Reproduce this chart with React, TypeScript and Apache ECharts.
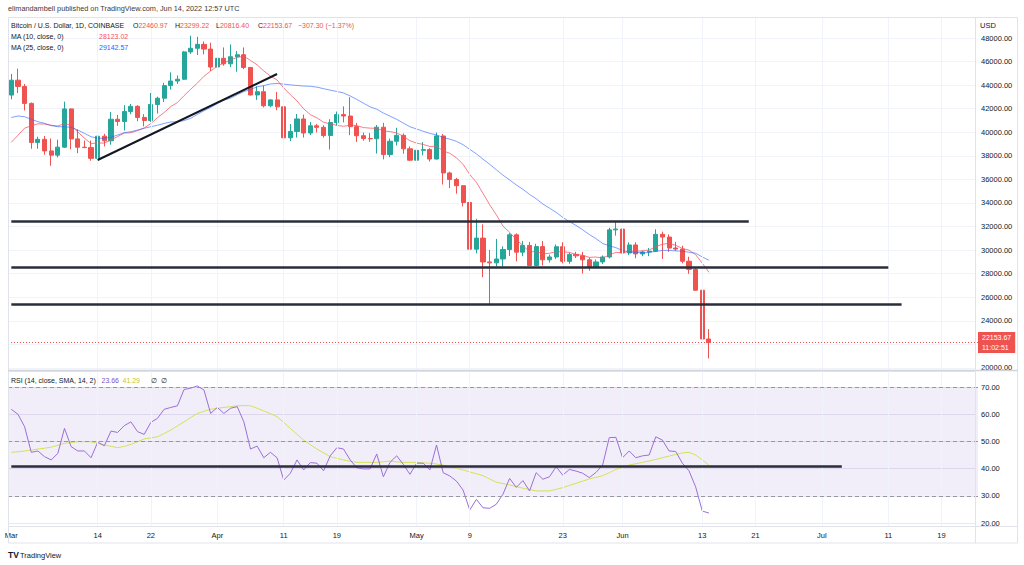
import React, { useEffect, useRef } from "react";
import * as echarts from "echarts";

// ---------- categories (daily, Mar 1 – Jul 24 2022) ----------
const FIRST_DAY_UTC = Date.UTC(2022, 2, 1);
const DAY_COUNT = 146;
const CATEGORIES: string[] = Array.from({ length: DAY_COUNT }, (_, i) =>
  new Date(FIRST_DAY_UTC + i * 86400000).toISOString().slice(0, 10)
);

const TICK_DATES = [
  "2022-03-01", "2022-03-14", "2022-03-22", "2022-04-01", "2022-04-11", "2022-04-19",
  "2022-05-01", "2022-05-09", "2022-05-23", "2022-06-01", "2022-06-13", "2022-06-21",
  "2022-07-01", "2022-07-11", "2022-07-19",
];
const TICK_LABELS = ["Mar", "14", "22", "Apr", "11", "19", "May", "9", "23", "Jun", "13", "21", "Jul", "11", "19"];

// ---------- BTC/USD daily OHLC (Mar 1 – Jun 14 2022) ----------
const OPEN = [
  43160, 44420, 43890, 42450, 39140, 39400, 38420, 38060, 38740, 41980,
  39440, 38730, 38700, 37790, 39670, 39280, 41110, 40920, 41760, 42200,
  41260, 41000, 42360, 42890, 43960, 44350, 44500, 46820, 47130, 47460,
  47060, 45540, 46280, 45810, 46410, 46580, 45500, 43170, 43440, 42250,
  42750, 42160, 39530, 40070, 41130, 39940, 40550, 40420, 39720, 40830,
  41500, 41380, 40480, 39710, 39470, 39450, 40430, 38110, 39240, 39740,
  38600, 37630, 38470, 38530, 37730, 39690, 36550, 36000, 35470, 34040,
  30080, 31020, 29000, 28920, 29250, 30050, 31300, 29830, 30400, 28700,
  30300, 29180, 29420, 30290, 29050, 29640, 29520, 29180, 28570, 29000,
  29420, 31720, 31790, 29760, 30440, 29680, 29840, 29910, 31340, 31110,
  30180, 30090, 29060, 28370, 26600, 22460.97,
];
const CLOSE = [
  44420, 43890, 42450, 39140, 39400, 38420, 38060, 38740, 41980, 39440,
  38730, 38700, 37790, 39670, 39280, 41110, 40920, 41760, 42200, 41260,
  41000, 42360, 42890, 43960, 44350, 44500, 46820, 47130, 47460, 47060,
  45540, 46280, 45810, 46410, 46580, 45500, 43170, 43440, 42250, 42750,
  42160, 39530, 40070, 41130, 39940, 40550, 40420, 39720, 40830, 41500,
  41380, 40480, 39710, 39470, 39450, 40430, 38110, 39240, 39740, 38600,
  37630, 38470, 38530, 37730, 39690, 36550, 36000, 35470, 34040, 30080,
  31020, 29000, 28920, 29250, 30050, 31300, 29830, 30400, 28700, 30300,
  29180, 29420, 30290, 29050, 29640, 29520, 29180, 28570, 29000, 29420,
  31720, 31790, 29760, 30440, 29680, 29840, 29910, 31340, 31110, 30180,
  30090, 29060, 28370, 26600, 22460.97, 22153.67,
];
const LOW = [
  42800, 43330, 41850, 38600, 38600, 38090, 37160, 37870, 38670, 38550,
  38230, 38660, 37580, 37580, 38800, 38950, 40550, 40150, 41530, 40940,
  40500, 40880, 41600, 42570, 43620, 44100, 44440, 46650, 46560, 46620,
  45200, 44200, 45650, 45530, 45140, 45360, 43120, 42750, 42110, 42130,
  41870, 39200, 39260, 39560, 39550, 39770, 39990, 39550, 38540, 40570,
  40840, 39760, 39180, 39290, 39190, 38200, 37700, 37880, 38880, 38180,
  37580, 37390, 38050, 37520, 37700, 35570, 35260, 34790, 33710, 29870,
  29730, 27700, 25400, 28600, 28600, 29500, 29050, 29480, 28660, 28680,
  28700, 28950, 29240, 28880, 28840, 29330, 28020, 28250, 28450, 28820,
  29300, 31230, 29310, 29580, 29310, 29480, 29490, 29880, 29250, 29850,
  29940, 28880, 27990, 26560, 21950, 20816.4,
];
const HIGH = [
  44950, 45400, 44100, 42530, 39620, 39680, 39470, 39370, 42600, 42030,
  40240, 39300, 39300, 39920, 39870, 41720, 41470, 42300, 42400, 42300,
  41540, 43340, 43020, 44200, 45080, 44820, 46900, 48190, 48100, 47700,
  47600, 46700, 47200, 47450, 46890, 47200, 45500, 43900, 43960, 42790,
  43430, 42420, 40700, 41550, 41500, 40870, 40700, 40600, 41110, 41760,
  42200, 42980, 40800, 39980, 39930, 40620, 40800, 39470, 40380, 39900,
  38800, 38680, 39170, 38650, 39980, 39850, 36650, 36130, 35500, 34240,
  32660, 32190, 30010, 30950, 30320, 31440, 31430, 30780, 30700, 30540,
  30770, 29620, 30480, 30670, 29800, 29850, 29850, 29380, 29210, 29550,
  31900, 32400, 31990, 30660, 30670, 29950, 30180, 31770, 31570, 31330,
  30700, 30380, 29440, 28540, 26880, 23299.22,
];

// ---------- moving averages ----------
const MA10 = [
  39150, 39750, 40350, 40550, 40720, 40700, 40600, 40530, 40750, 40594,
  40025, 39506, 39040, 39093, 39081, 39350, 39636, 39938, 39960, 40142,
  40369, 40735, 41245, 41674, 42181, 42520, 43110, 43647, 44173, 44753,
  45207, 45599, 45891, 46136, 46359, 46459, 46094, 45725, 45204, 44773,
  44435, 43760, 43186, 42658, 41994, 41499, 41224, 40852, 40710, 40585,
  40507, 40602, 40566, 40400, 40351, 40339, 40108, 40060, 39951, 39661,
  39286, 39085, 38967, 38793, 38817, 38429, 38218, 37841, 37271, 36419,
  35758, 34811, 33850, 33002, 32038, 31513, 30896, 30389, 29855, 29877,
  29693, 29735, 29872, 29852, 29811, 29633, 29568, 29385, 29415, 29327,
  29581, 29818, 29765, 29904, 29908, 29940, 30013, 30290, 30501, 30577,
  30414, 30141, 30002, 29618, 28896, 28123.02,
];
const MA25 = [
  41250, 41380, 41320, 41100, 40900, 40760, 40560, 40475, 40475, 40420,
  40190, 39910, 39625, 39490, 39490, 39575, 39770, 39965, 40050, 40190,
  40340, 40475, 40600, 40750, 40877, 40880, 40997, 41184, 41517, 41824,
  42108, 42437, 42720, 42897, 43183, 43454, 43632, 43858, 43962, 44100,
  44142, 44087, 44019, 43976, 43924, 43906, 43828, 43701, 43576, 43462,
  43337, 43084, 42787, 42467, 42163, 41958, 41632, 41369, 41102, 40783,
  40468, 40280, 40084, 39903, 39780, 39556, 39415, 39231, 38947, 38553,
  38172, 37715, 37283, 36820, 36362, 35958, 35532, 35160, 34729, 34363,
  33913, 33566, 33208, 32780, 32422, 32097, 31726, 31327, 30978, 30567,
  30374, 30206, 29977, 29833, 29817, 29770, 29806, 29903, 29978, 29983,
  29934, 29904, 29822, 29738, 29425, 29142.57,
];

// ---------- RSI (14) and its SMA (14) ----------
const RSI = [
  61.8, 60.0, 55.4, 46.0, 46.5, 44.4, 43.2, 45.6, 54.8, 48.1,
  46.5, 46.5, 44.0, 49.7, 48.4, 53.8, 53.3, 55.8, 57.2, 53.6,
  52.6, 57.0, 58.5, 61.8, 62.5, 63.1, 69.1, 69.6, 70.4, 68.9,
  60.3, 62.5, 60.3, 62.2, 62.8, 57.2, 47.2, 48.3, 44.0, 46.0,
  44.0, 35.8, 38.3, 43.2, 39.5, 42.2, 42.0, 39.2, 44.7, 47.7,
  47.2, 43.2, 40.3, 39.9, 39.9, 45.4, 37.0, 42.3, 44.7, 41.6,
  37.9, 42.0, 42.0, 39.5, 48.7, 38.5, 37.3, 35.4, 32.1, 24.8,
  28.7, 25.6, 25.4, 26.9, 30.6, 36.4, 33.1, 35.6, 31.8, 38.5,
  36.1, 37.0, 40.7, 37.6, 39.7, 39.1, 38.3, 36.7, 38.6, 41.3,
  51.4, 51.5, 44.0, 46.5, 44.0, 44.7, 45.0, 51.7, 50.5, 46.5,
  46.3, 42.0, 39.2, 33.3, 24.4, 23.66,
];
const RSI_MA = [
  46.0, 46.2, 46.5, 46.8, 47.2, 47.5, 47.9, 48.6, 49.3, 49.6,
  49.9, 49.9, 49.9, 49.3, 48.7, 48.2, 47.7, 48.2, 48.9, 49.9,
  50.9, 51.3, 51.7, 52.9, 54.2, 55.7, 57.2, 58.8, 60.3, 61.1,
  61.8, 62.2, 62.5, 62.8, 63.1, 63.2, 63.1, 62.2, 61.2, 60.2,
  59.1, 57.0, 54.8, 52.6, 50.5, 48.8, 47.2, 45.8, 44.4, 43.8,
  43.2, 42.7, 42.3, 42.3, 42.3, 42.3, 42.5, 42.8, 42.5, 42.3,
  42.3, 42.3, 42.1, 42.0, 41.7, 41.3, 40.7, 40.1, 39.5, 38.8,
  38.1, 37.4, 36.2, 35.0, 34.5, 34.0, 33.4, 32.8, 32.3, 31.8,
  31.8, 31.8, 32.4, 33.0, 33.8, 34.6, 35.4, 36.2, 36.8, 37.4,
  38.5, 39.7, 40.5, 41.3, 41.8, 42.3, 42.8, 43.4, 44.0, 44.6,
  45.2, 45.8, 46.0, 45.0, 43.2, 41.29,
];

// ---------- drawn annotations ----------
const LEVELS = [32420, 28540, 25405];
const LEVEL_START = ["2022-03-01", "2022-03-01", "2022-03-01"];
const LEVEL_END = ["2022-06-20", "2022-07-11", "2022-07-13"];
const TREND_DATES = ["2022-03-14", "2022-04-10"];
const TREND_PRICES = [37650, 44945];
const RSI_LEVEL = 41.0;
const RSI_LEVEL_DATES = ["2022-03-01", "2022-07-04"];
const COUNTDOWN = "11:02:51";

// ---------- styling ----------
const FONT = "'Liberation Sans', Arial, sans-serif";
const TEXT = "#131722";
const UP = "#26a69a";
const DOWN = "#ef5350";
const GRID_LINE = "#f0f3fa";
const FRAME = "#e0e3eb";
const FS = 7.5;   // axis labels
const LFS = 7;    // legend texts

const fmt2 = (v: number) => v.toFixed(2);
const minus = (s: string) => s.replace("-", "\u2212");

function txt(x: number, y: number, text: string, fill: string, size = LFS, extra: any = {}) {
  return {
    type: "text",
    x,
    y,
    z: 20,
    silent: true,
    style: { text, fill, fontSize: size, fontFamily: FONT, verticalAlign: "middle", align: "left", ...extra },
  };
}
function rich(x: number, y: number, label: string, value: string, color: string) {
  return {
    type: "text",
    x,
    y,
    z: 20,
    silent: true,
    style: {
      text: `{l|${label}}{v|${value}}`,
      fontSize: LFS,
      fontFamily: FONT,
      verticalAlign: "middle",
      rich: {
        l: { fill: TEXT, fontSize: LFS, fontFamily: FONT },
        v: { fill: color, fontSize: LFS, fontFamily: FONT },
      },
    },
  };
}
function hline(x1: number, x2: number, y: number, stroke = FRAME, lineWidth = 1) {
  return { type: "line", z: 15, silent: true, shape: { x1, y1: y, x2, y2: y }, style: { stroke, lineWidth } };
}
function vline(x: number, y1: number, y2: number, stroke = FRAME, lineWidth = 1) {
  return { type: "line", z: 15, silent: true, shape: { x1: x, y1, x2: x, y2 }, style: { stroke, lineWidth } };
}

export default function App() {
  const ref = useRef<HTMLDivElement>(null);

  useEffect(() => {
    if (!ref.current) return;
    const chart = echarts.init(ref.current, undefined, { renderer: "svg" });

    const last = CLOSE.length - 1;
    const lastClose = CLOSE[last];
    const change = lastClose - CLOSE[last - 1];
    const pct = (change / CLOSE[last - 1]) * 100;
    const candles = OPEN.map((o, i) => [o, CLOSE[i], LOW[i], HIGH[i]]);
    const tickSet = new Set(TICK_DATES);
    const tickLabel = (v: string) => {
      const k = TICK_DATES.indexOf(v);
      return k >= 0 ? TICK_LABELS[k] : "";
    };
    const vGrid = {
      symbol: "none",
      silent: true,
      animation: false,
      label: { show: false },
      lineStyle: { color: GRID_LINE, width: 1, type: "solid" },
      data: TICK_DATES.slice(1).map((d) => ({ xAxis: d })),
    };

    const axisLabelBase = { color: TEXT, fontSize: FS, fontFamily: FONT };

    const option: any = {
      animation: false,
      backgroundColor: "#ffffff",
      grid: [
        { left: 8, top: 17, width: 970, height: 353, containLabel: false, outerBoundsMode: "none", show: false },
        { left: 8, top: 371, width: 970, height: 155, containLabel: false, outerBoundsMode: "none", show: false },
      ],
      xAxis: [
        {
          type: "category", gridIndex: 0, data: CATEGORIES, boundaryGap: true,
          axisLine: { show: false }, axisTick: { show: false }, axisLabel: { show: false }, splitLine: { show: false },
        },
        {
          type: "category", gridIndex: 1, data: CATEGORIES, boundaryGap: true,
          axisLine: { show: false }, axisTick: { show: false }, splitLine: { show: false },
          axisLabel: {
            ...axisLabelBase,
            margin: 5,
            interval: (_i: number, v: string) => tickSet.has(v),
            formatter: (v: string) => tickLabel(v),
          },
        },
      ],
      yAxis: [
        {
          type: "value", gridIndex: 0, position: "right", min: 19830, max: 49782, splitNumber: 15,
          axisLine: { show: false }, axisTick: { show: false },
          axisLabel: {
            ...axisLabelBase, margin: 3, showMinLabel: false, showMaxLabel: false,
            // the scale hides tick labels that sit under the last-price badge
            formatter: (v: number) => (Math.abs(v - lastClose) < 1000 ? "" : fmt2(v)),
          },
          splitLine: { show: true, lineStyle: { color: GRID_LINE, width: 1 } },
        },
        {
          type: "value", gridIndex: 1, position: "right", min: 18.9, max: 75.9, splitNumber: 6,
          axisLine: { show: false }, axisTick: { show: false },
          axisLabel: { ...axisLabelBase, margin: 3, formatter: (v: number) => fmt2(v), showMinLabel: false, showMaxLabel: false },
          splitLine: { show: true, lineStyle: { color: "#e9e5f2", width: 1 } },
        },
      ],
      series: [
        // vertical grid lines (price pane)
        {
          type: "line", xAxisIndex: 0, yAxisIndex: 0, data: [], z: 1, silent: true,
          markLine: vGrid,
        },
        {
          type: "candlestick", name: "BTCUSD", xAxisIndex: 0, yAxisIndex: 0, z: 3,
          data: candles, barWidth: 4.6,
          itemStyle: { color: UP, color0: DOWN, borderColor: UP, borderColor0: DOWN, borderWidth: 1 },
          markLine: {
            symbol: "none", silent: true, animation: false,
            data: [{ yAxis: lastClose }],
            lineStyle: { color: DOWN, type: [1, 2], width: 1 },
            label: {
              show: true, position: "end", distance: 0,
              formatter: `${fmt2(lastClose)}\n${COUNTDOWN}`,
              color: "#ffffff", backgroundColor: DOWN, fontSize: 7, fontFamily: FONT,
              lineHeight: 10, padding: [1, 4, 0, 4], align: "left",
            },
          },
        },
        {
          type: "line", name: "MA10", xAxisIndex: 0, yAxisIndex: 0, data: MA10, z: 4,
          showSymbol: false, symbol: "none", silent: true,
          lineStyle: { color: "#f7525f", width: 1, opacity: 0.75 },
        },
        {
          type: "line", name: "MA25", xAxisIndex: 0, yAxisIndex: 0, data: MA25, z: 4,
          showSymbol: false, symbol: "none", silent: true,
          lineStyle: { color: "#2962ff", width: 1, opacity: 0.6 },
        },
        // drawn lines on price pane
        {
          type: "line", xAxisIndex: 0, yAxisIndex: 0, data: [], z: 6, silent: true,
          markLine: {
            symbol: "none", silent: true, animation: false, label: { show: false },
            data: [
              ...LEVELS.map((p, i) => [
                { coord: [LEVEL_START[i], p], lineStyle: { color: "#2a2e39", width: 2.5, type: "solid" } },
                { coord: [LEVEL_END[i], p] },
              ]),
              [
                { coord: [TREND_DATES[0], TREND_PRICES[0]], lineStyle: { color: "#131722", width: 2, type: "solid" } },
                { coord: [TREND_DATES[1], TREND_PRICES[1]] },
              ],
            ],
          },
        },
        // RSI pane background, bands, grid
        {
          type: "line", xAxisIndex: 1, yAxisIndex: 1, data: [], z: 1, silent: true,
          markArea: {
            silent: true,
            itemStyle: { color: "rgba(126,87,194,0.1)" },
            data: [[{ yAxis: 30 }, { yAxis: 70 }]],
          },
          markLine: vGrid,
        },
        {
          type: "line", xAxisIndex: 1, yAxisIndex: 1, data: [], z: 2, silent: true,
          markLine: {
            symbol: "none", silent: true, animation: false, label: { show: false },
            lineStyle: { color: "#9598a1", width: 1, type: [4, 3] },
            data: [{ yAxis: 70 }, { yAxis: 50 }, { yAxis: 30 }],
          },
        },
        {
          type: "line", name: "RSI", xAxisIndex: 1, yAxisIndex: 1, data: RSI, z: 4,
          showSymbol: false, symbol: "none", silent: true,
          lineStyle: { color: "#9b6fd6", width: 1 },
        },
        {
          type: "line", name: "RSI MA", xAxisIndex: 1, yAxisIndex: 1, data: RSI_MA, z: 3,
          showSymbol: false, symbol: "none", silent: true,
          lineStyle: { color: "#d4e157", width: 1 },
        },
        {
          type: "line", xAxisIndex: 1, yAxisIndex: 1, data: [], z: 6, silent: true,
          markLine: {
            symbol: "none", silent: true, animation: false, label: { show: false },
            data: [[
              { coord: [RSI_LEVEL_DATES[0], RSI_LEVEL], lineStyle: { color: "#2a2e39", width: 2.5, type: "solid" } },
              { coord: [RSI_LEVEL_DATES[1], RSI_LEVEL] },
            ]],
          },
        },
      ],
      graphic: {
        elements: [
          // cover the small overhang of the plot into the price-scale column
          { type: "rect", z: 1, silent: true, shape: { x: 976, y: 18, width: 2.6, height: 524 }, style: { fill: "#ffffff" } },
          // frame
          { type: "rect", z: 15, silent: true, shape: { x: 8.5, y: 17.5, width: 1009, height: 525.5 }, style: { fill: "none", stroke: FRAME, lineWidth: 1 } },
          hline(8, 1018, 370.5, "#d1d4dc", 1.5),
          hline(8, 1018, 526.5, FRAME, 1),
          vline(975.5, 17, 543, FRAME, 1),
          // header
          txt(8, 8.5, "elimandambell published on TradingView.com, Jun 14, 2022 12:57 UTC", "#3a3a3a", 7.3),
          txt(11, 25.5, "Bitcoin / U.S. Dollar, 1D, COINBASE", TEXT),
          rich(133, 25.5, "O", fmt2(OPEN[last]), DOWN),
          rich(175, 25.5, "H", fmt2(HIGH[last]), DOWN),
          rich(216, 25.5, "L", fmt2(LOW[last]), DOWN),
          rich(258, 25.5, "C", fmt2(lastClose), DOWN),
          txt(298, 25.5, `${minus(fmt2(change))} (${minus(fmt2(pct))}%)`, DOWN),
          txt(11, 36.5, "MA (10, close, 0)", TEXT),
          txt(99, 36.5, fmt2(MA10[last]), "#f7525f"),
          txt(11, 47.5, "MA (25, close, 0)", TEXT),
          txt(99, 47.5, fmt2(MA25[last]), "#2962ff"),
          // RSI legend
          txt(11, 380.5, "RSI (14, close, SMA, 14, 2)", TEXT),
          txt(101.5, 380.5, fmt2(RSI[last]), "#7e57c2"),
          txt(122.5, 380.5, fmt2(RSI_MA[last]), "#c0ca33"),
          txt(151, 380.5, "\u2205", TEXT),
          txt(161, 380.5, "\u2205", TEXT),
          // price scale caption
          txt(980, 25, "USD", TEXT, FS),
          // footer logo
          txt(8, 555, "TV", TEXT, 8.5, { fontWeight: 900 }),
          txt(20, 555, "TradingView", TEXT, 7.5),
        ],
      },
    };

    chart.setOption(option);
    return () => chart.dispose();
  }, []);

  return (
    <div
      ref={ref}
      style={{ position: "absolute", left: 0, top: 0, width: 1024, height: 565, background: "#ffffff" }}
    />
  );
}
